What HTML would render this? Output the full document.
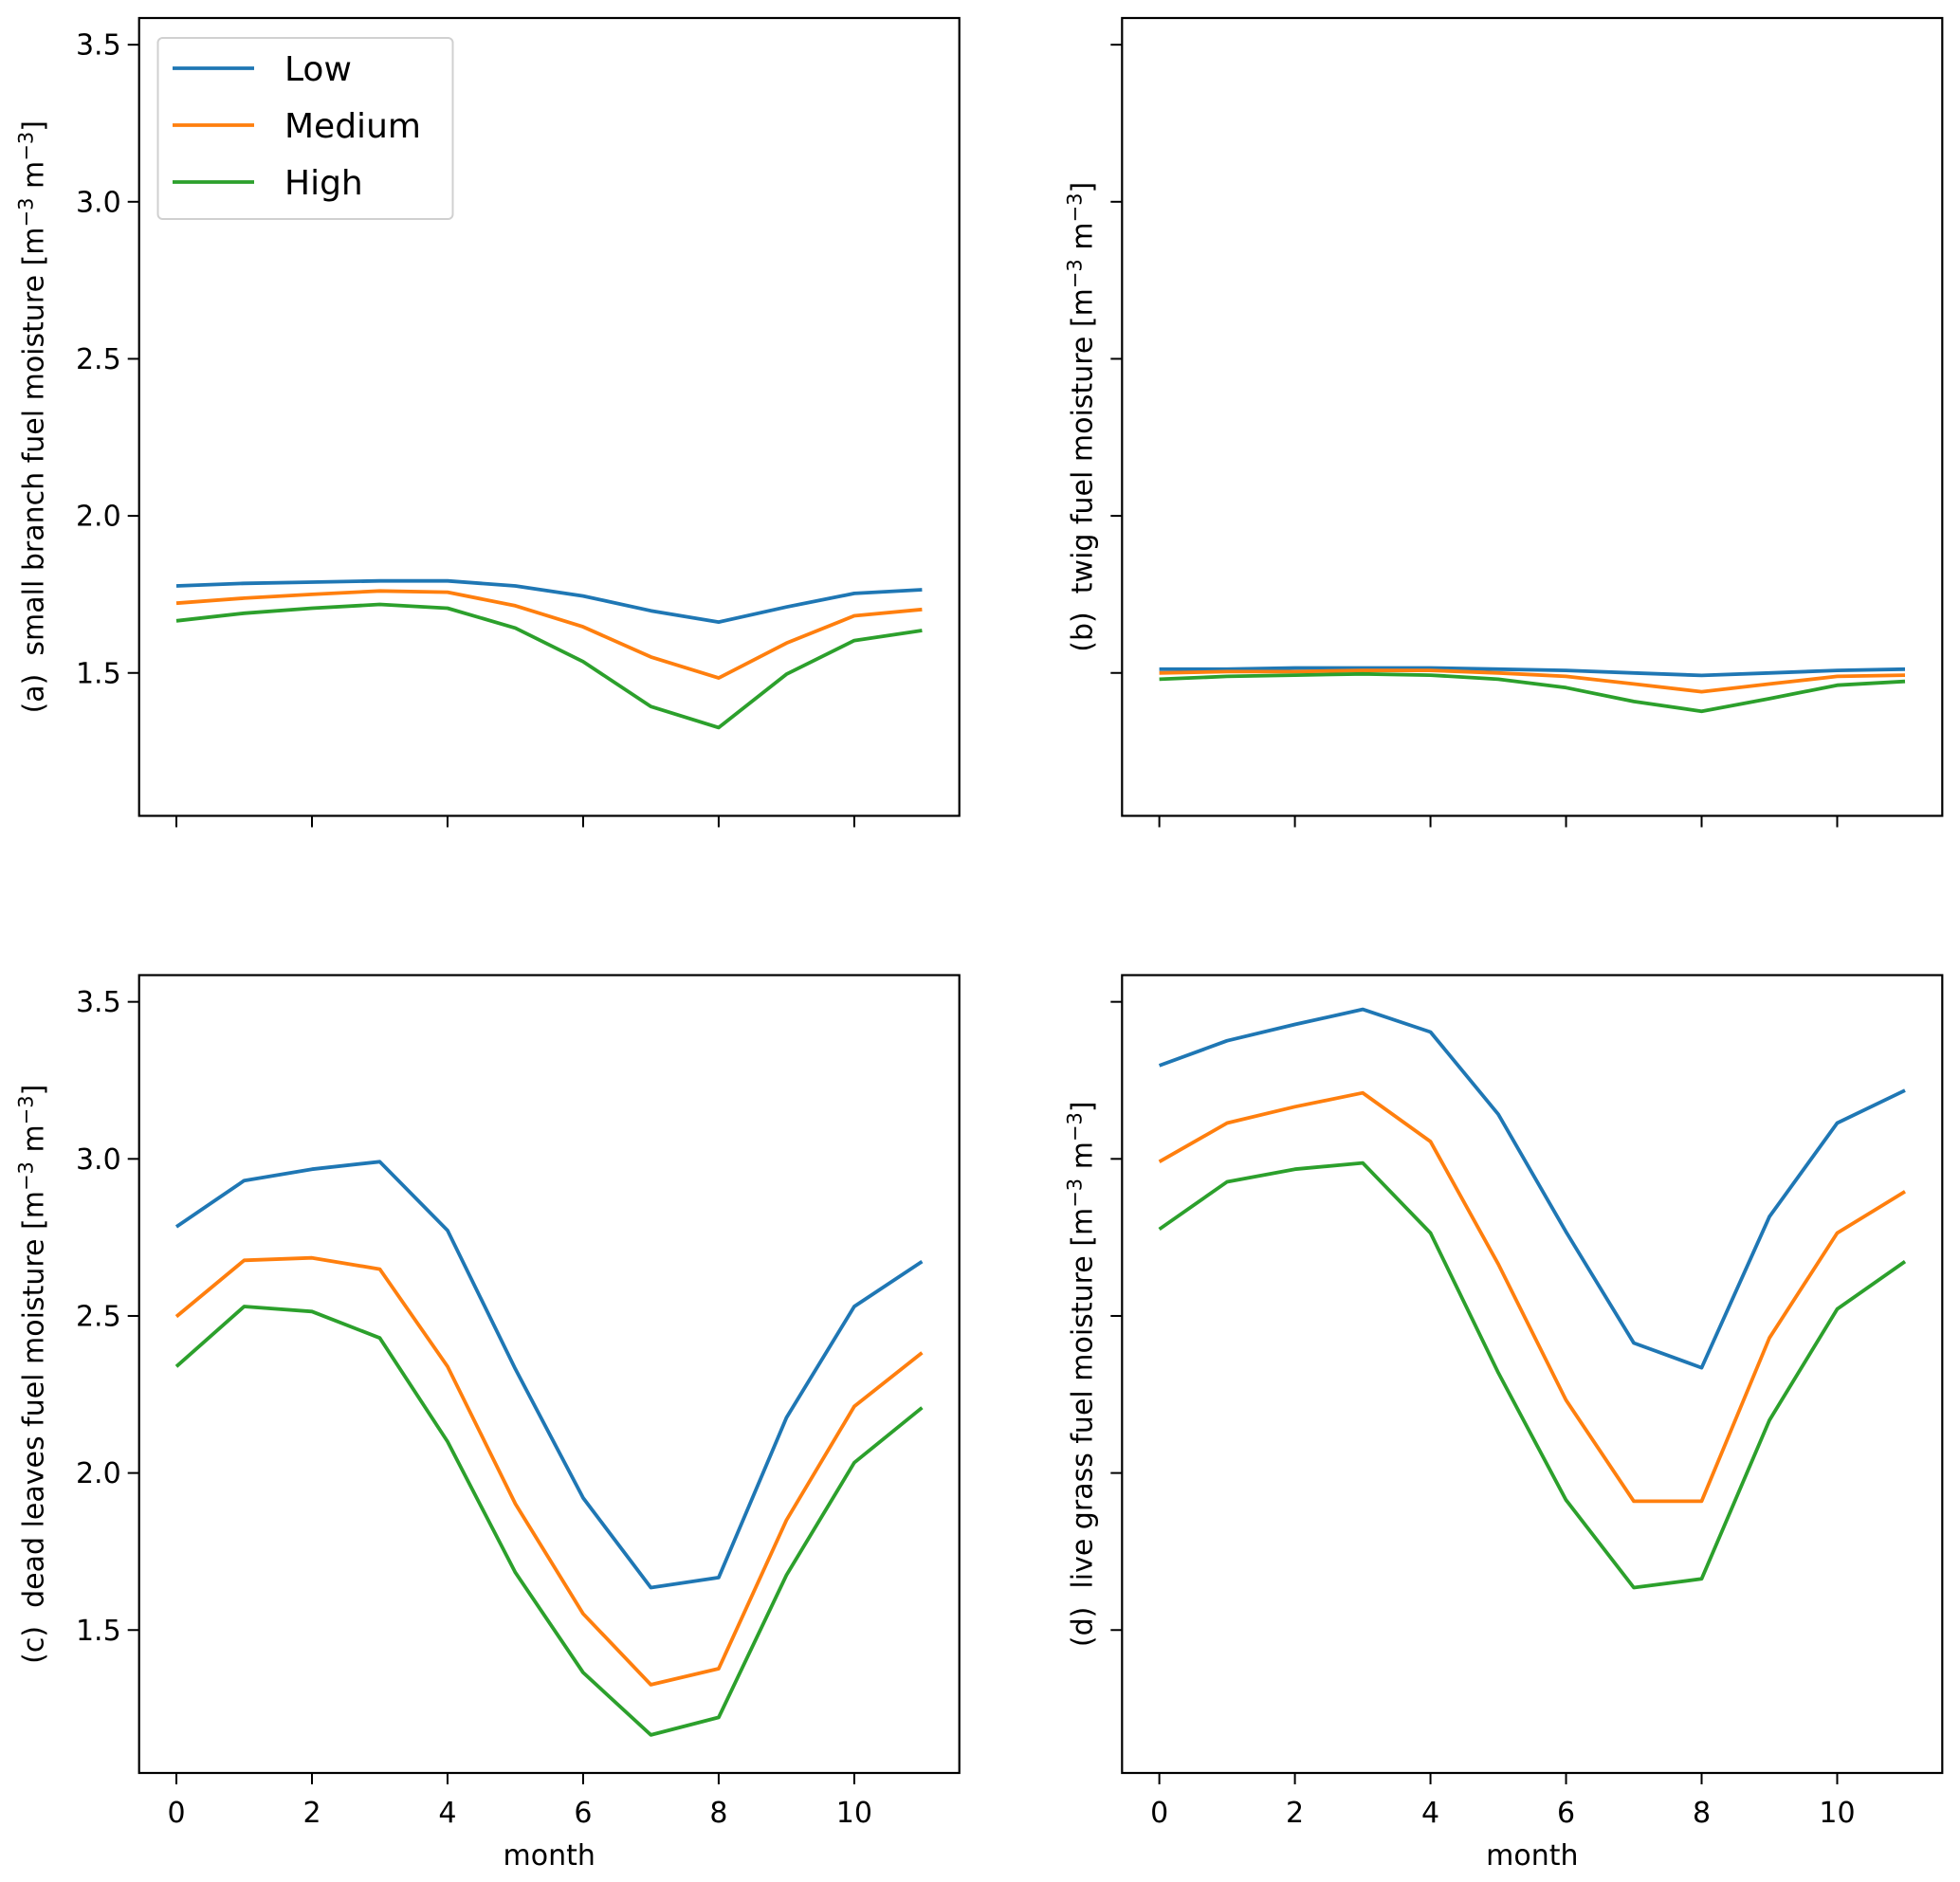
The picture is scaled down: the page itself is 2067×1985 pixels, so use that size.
<!DOCTYPE html>
<html><head><meta charset="utf-8"><style>
html,body{margin:0;padding:0;background:#fff;}
svg{display:block;font-family:"DejaVu Sans","Liberation Sans",sans-serif;}
</style></head><body>
<svg id="fig" width="2067" height="1985" viewBox="0 0 2067 1985" xmlns="http://www.w3.org/2000/svg"></svg>
<script>
const months = [0,1,2,3,4,5,6,7,8,9,10,11];
const seriesNames = ["Low","Medium","High"];
const colors = ["#1f77b4","#ff7f0e","#2ca02c"];
const yTicks = [1.5,2.0,2.5,3.0,3.5];
const yTickLabels = ["1.5","2.0","2.5","3.0","3.5"];
const xTicks = [0,2,4,6,8,10];
const xTickLabels = ["0","2","4","6","8","10"];
const aLow = [1.777,1.785,1.789,1.793,1.793,1.777,1.745,1.698,1.662,1.71,1.753,1.765];
const aMed = [1.722,1.738,1.75,1.761,1.757,1.714,1.647,1.551,1.484,1.595,1.682,1.702];
const aHigh = [1.666,1.69,1.706,1.718,1.706,1.643,1.536,1.393,1.326,1.496,1.603,1.635];
const bLow = [1.512,1.512,1.516,1.516,1.516,1.512,1.508,1.5,1.492,1.5,1.508,1.512];
const bMed = [1.5,1.504,1.504,1.508,1.508,1.5,1.489,1.465,1.44,1.465,1.489,1.493];
const bHigh = [1.48,1.489,1.493,1.497,1.493,1.48,1.453,1.409,1.378,1.418,1.461,1.473];
const cLow = [2.784,2.931,2.967,2.991,2.772,2.331,1.921,1.635,1.667,2.176,2.53,2.673];
const cMed = [2.498,2.677,2.685,2.649,2.339,1.902,1.552,1.326,1.377,1.85,2.212,2.383];
const cHigh = [2.339,2.53,2.514,2.43,2.1,1.683,1.365,1.166,1.222,1.675,2.033,2.208];
const dLow = [3.297,3.376,3.428,3.476,3.404,3.142,2.768,2.414,2.335,2.816,3.114,3.218];
const dMed = [2.991,3.114,3.166,3.21,3.055,2.665,2.232,1.91,1.91,2.43,2.764,2.896];
const dHigh = [2.776,2.927,2.967,2.987,2.764,2.319,1.914,1.635,1.663,2.168,2.522,2.673];

const NS="http://www.w3.org/2000/svg";
const svg=document.getElementById('fig');
function mk(tag,attrs,parent){const e=document.createElementNS(NS,tag);for(const k in attrs)e.setAttribute(k,attrs[k]);(parent||svg).appendChild(e);return e;}

const Y0=1.045, Y1=3.585, X0=-0.55, X1=11.55, W=865, H=841.5;
const panels=[
 {id:'a',left:146.7,top:19,label:'(a)\u00a0 small branch fuel moisture',data:[aLow,aMed,aHigh],ylabels:true,xlabels:false,legend:true},
 {id:'b',left:1183.3,top:19,label:'(b)\u00a0 twig fuel moisture',data:[bLow,bMed,bHigh],ylabels:false,xlabels:false},
 {id:'c',left:146.7,top:1028.5,label:'(c)\u00a0 dead leaves fuel moisture',data:[cLow,cMed,cHigh],ylabels:true,xlabels:true},
 {id:'d',left:1183.3,top:1028.5,label:'(d)\u00a0 live grass fuel moisture',data:[dLow,dMed,dHigh],ylabels:false,xlabels:true}
];
panels.forEach(p=>{
  const g=mk('g',{});
  
  
  const xs=v=>p.left+(v-X0)/(X1-X0)*W;
  const ys=v=>p.top+H-(v-Y0)/(Y1-Y0)*H;
  p.data.forEach((arr,si)=>{
    const pts=months.map((m,i)=>xs(m).toFixed(1)+','+ys(arr[i]).toFixed(1)).join(' ');
    const l=mk('polyline',{points:pts,fill:'none',stroke:colors[si],'stroke-width':3.8,'stroke-linejoin':'round'},g);
    
    
  });
  const fr=mk('rect',{x:p.left,y:p.top,width:W,height:H,fill:'none',stroke:'#000','stroke-width':2.2},g);
  
  
  yTicks.forEach((t,i)=>{
    const y=ys(t);
    const tk=mk('line',{x1:p.left-12,x2:p.left,y1:y,y2:y,stroke:'#000','stroke-width':2},g);
    
    
    if(p.ylabels){
      const tx=mk('text',{x:p.left-19,y:y+10.5,'text-anchor':'end','font-size':30,fill:'#000'},g);
      tx.textContent=yTickLabels[i];
      
      
    }
  });
  xTicks.forEach((t,i)=>{
    const x=xs(t);
    const tk=mk('line',{x1:x,x2:x,y1:p.top+H,y2:p.top+H+12,stroke:'#000','stroke-width':2},g);
    
    
    if(p.xlabels){
      const tx=mk('text',{x:x,y:p.top+H+52,'text-anchor':'middle','font-size':30,fill:'#000'},g);
      tx.textContent=xTickLabels[i];
      
      
    }
  });
  if(p.xlabels){
    const xl=mk('text',{x:p.left+W/2,y:p.top+H+97,'text-anchor':'middle','font-size':30,fill:'#000'},g);
    xl.textContent='month';
    
    
  }
  const cx=p.left-(p.ylabels?101:32), cy=p.top+H/2;
  const yl=mk('text',{x:cx,y:cy,'text-anchor':'middle','font-size':30,fill:'#000','xml:space':'preserve',transform:`rotate(-90 ${cx} ${cy})`},g);
  
  
  yl.appendChild(document.createTextNode(p.label+' [m'));
  const s1=mk('tspan',{dy:-11,'font-size':21},yl);s1.textContent='\u22123';
  const s2=mk('tspan',{dy:11},yl);s2.textContent='\u00a0m';
  const s3=mk('tspan',{dy:-11,'font-size':21},yl);s3.textContent='\u22123';
  const s4=mk('tspan',{dy:11},yl);s4.textContent=']';
  if(p.legend){
    const lg=mk('g',{},g);
    
    
    mk('rect',{x:166.5,y:40,width:311,height:191,rx:5,fill:'#fff','fill-opacity':0.8,stroke:'#d0d0d0','stroke-width':2},lg);
    seriesNames.forEach((n,i)=>{
      const e=mk('g',{},lg);
      
      
      const y=72+i*60;
      mk('line',{x1:182,x2:268,y1:y,y2:y,stroke:colors[i],'stroke-width':3.8},e);
      const t=mk('text',{x:300,y:y+13,'font-size':36,fill:'#000'},e);
      t.textContent=n;
    });
  }
});
</script>
</body></html>
